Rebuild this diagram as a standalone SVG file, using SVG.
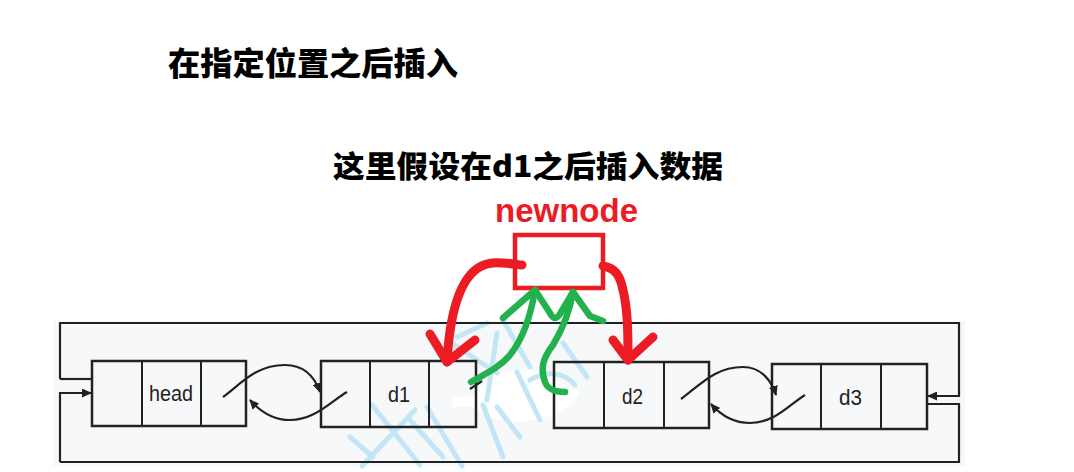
<svg xmlns="http://www.w3.org/2000/svg" width="1074" height="472" viewBox="0 0 1074 472">
<defs>
<marker id="ah" markerUnits="userSpaceOnUse" markerWidth="10" markerHeight="9" refX="9" refY="4.5" orient="auto">
<path d="M0,0 L10,4.5 L0,9 Z" fill="#222"/>
</marker>
<style>
.box{fill:none;stroke:#222;stroke-width:2.5}
.div{stroke:#222;stroke-width:2}
.lbl{font-family:"Liberation Sans",Arial,sans-serif;font-size:22px;fill:#222}
.ttl{font-family:"Noto Sans CJK SC","Noto Sans",sans-serif;font-weight:900;fill:#000}
.ln{fill:none;stroke:#222;stroke-width:2.2}
.red{fill:none;stroke:#ec1c24;stroke-width:9;stroke-linecap:round;stroke-linejoin:round}
.grn{fill:none;stroke:#22b14c;stroke-width:6.5;stroke-linecap:round;stroke-linejoin:round}
.wm{fill:none;stroke:#c3e6f6;stroke-width:5;stroke-linecap:round}
</style>
</defs>
<rect width="1074" height="472" fill="#fff"/>
<rect x="53" y="321" width="912" height="145" fill="#f7f8fa"/>
<path d="M452,398 L474,396 C480,385 495,372 515,370 C535,368 550,375 565,385 L580,392 C576,400 570,408 560,412 C545,420 520,424 500,420 C485,416 478,410 474,407 L452,407 Z" fill="#fff"/>
<g id="watermark">
<path class="wm" d="M350,437 L373,457"/>
<path class="wm" d="M372,405 L420,465"/>
<path class="wm" d="M362,466 L415,410"/>
<path class="wm" d="M410,420 L443,457"/>
<path class="wm" d="M427,407 L462,466"/>
<path class="wm" d="M450,342 L497,373"/>
<path class="wm" d="M457,337 L487,323"/>
<path class="wm" d="M497,333 L487,400"/>
<path class="wm" d="M483,405 L503,457"/>
<path class="wm" d="M503,320 L530,367"/>
<path class="wm" d="M517,372 L540,420"/>
<path class="wm" d="M497,407 L520,437"/>
<path class="wm" d="M563,343 L587,377"/>
<path class="wm" d="M530,380 C545,370 565,372 575,385"/>
</g>
<text class="ttl" x="168" y="75" font-size="32" textLength="290" lengthAdjust="spacingAndGlyphs">在指定位置之后插入</text>
<text class="ttl" x="333" y="177" font-size="30" textLength="390" lengthAdjust="spacingAndGlyphs">这里假设在d1之后插入数据</text>
<g id="head">
<rect class="box" x="92" y="361" width="154" height="65"/>
<line class="div" x1="142" y1="361" x2="142" y2="426"/>
<line class="div" x1="201" y1="361" x2="201" y2="426"/>
<text class="lbl" x="149" y="401" textLength="44" lengthAdjust="spacingAndGlyphs">head</text>
</g>
<g id="d1">
<rect class="box" x="321" y="361" width="155" height="66"/>
<line class="div" x1="370" y1="361" x2="370" y2="427"/>
<line class="div" x1="429" y1="361" x2="429" y2="427"/>
<text class="lbl" x="388" y="402" textLength="22" lengthAdjust="spacingAndGlyphs">d1</text>
</g>
<g id="d2">
<rect class="box" x="554" y="362" width="155" height="66"/>
<line class="div" x1="604" y1="362" x2="604" y2="428"/>
<line class="div" x1="664" y1="362" x2="664" y2="428"/>
<text class="lbl" x="622" y="404" textLength="21" lengthAdjust="spacingAndGlyphs">d2</text>
</g>
<g id="d3">
<rect class="box" x="772" y="364" width="155" height="65"/>
<line class="div" x1="821" y1="364" x2="821" y2="429"/>
<line class="div" x1="881" y1="364" x2="881" y2="429"/>
<text class="lbl" x="839" y="405" textLength="23" lengthAdjust="spacingAndGlyphs">d3</text>
</g>
<g id="newnode">
<rect x="515" y="235" width="88" height="53" fill="#fff" stroke="#ec1c24" stroke-width="4.5"/>
<text x="495" y="222" font-family="'Liberation Sans',Arial,sans-serif" font-weight="bold" font-size="33" fill="#ec1c24" textLength="143" lengthAdjust="spacingAndGlyphs">newnode</text>
</g>
<g id="connectors">
<path class="ln" d="M60,379 L60,323 L959,323 L959,396 L928,396" marker-end="url(#ah)"/>
<path class="ln" d="M60,379 L92,379"/>
<path class="ln" d="M60,462 L60,393 L91,393" marker-end="url(#ah)"/>
<path class="ln" d="M60,462 L959,462 L959,404 L927,404"/>
<path class="ln" d="M223,397 C240,385 255,365 285,365 C305,365 315,378 320,392" marker-end="url(#ah)"/>
<path class="ln" d="M347,392 C330,402 315,420 290,420 C270,420 258,409 250,400" marker-end="url(#ah)"/>
<path class="ln" d="M681,399 C700,385 715,367 743,367 C762,367 772,382 776,395" marker-end="url(#ah)"/>
<path class="ln" d="M805,395 C790,404 775,423 750,423 C730,423 718,412 711,404" marker-end="url(#ah)"/>
<path class="ln" d="M470,389 L482,381"/>
<path class="red" d="M522,265 C505,263 490,260 478,268 C460,280 450,310 447,362"/>
<path class="red" d="M430,334 L447,362 L475,340"/>
<path class="red" d="M603,266 C615,268 620,275 623,290 C628,310 628,335 628,360"/>
<path class="red" d="M613,340 L628,360 L653,337"/>
<path class="grn" d="M471,382 C485,374 500,367 510,355 C522,340 530,320 535,290"/>
<path class="grn" d="M503,318 L535,290 L550,313 C553,319 556,320 560,314 L573,292 L590,316 L603,321"/>
<path class="grn" d="M573,292 C570,310 565,325 553,345 C543,358 540,368 545,382 C548,390 555,392 565,392"/>
</g>
</svg>
